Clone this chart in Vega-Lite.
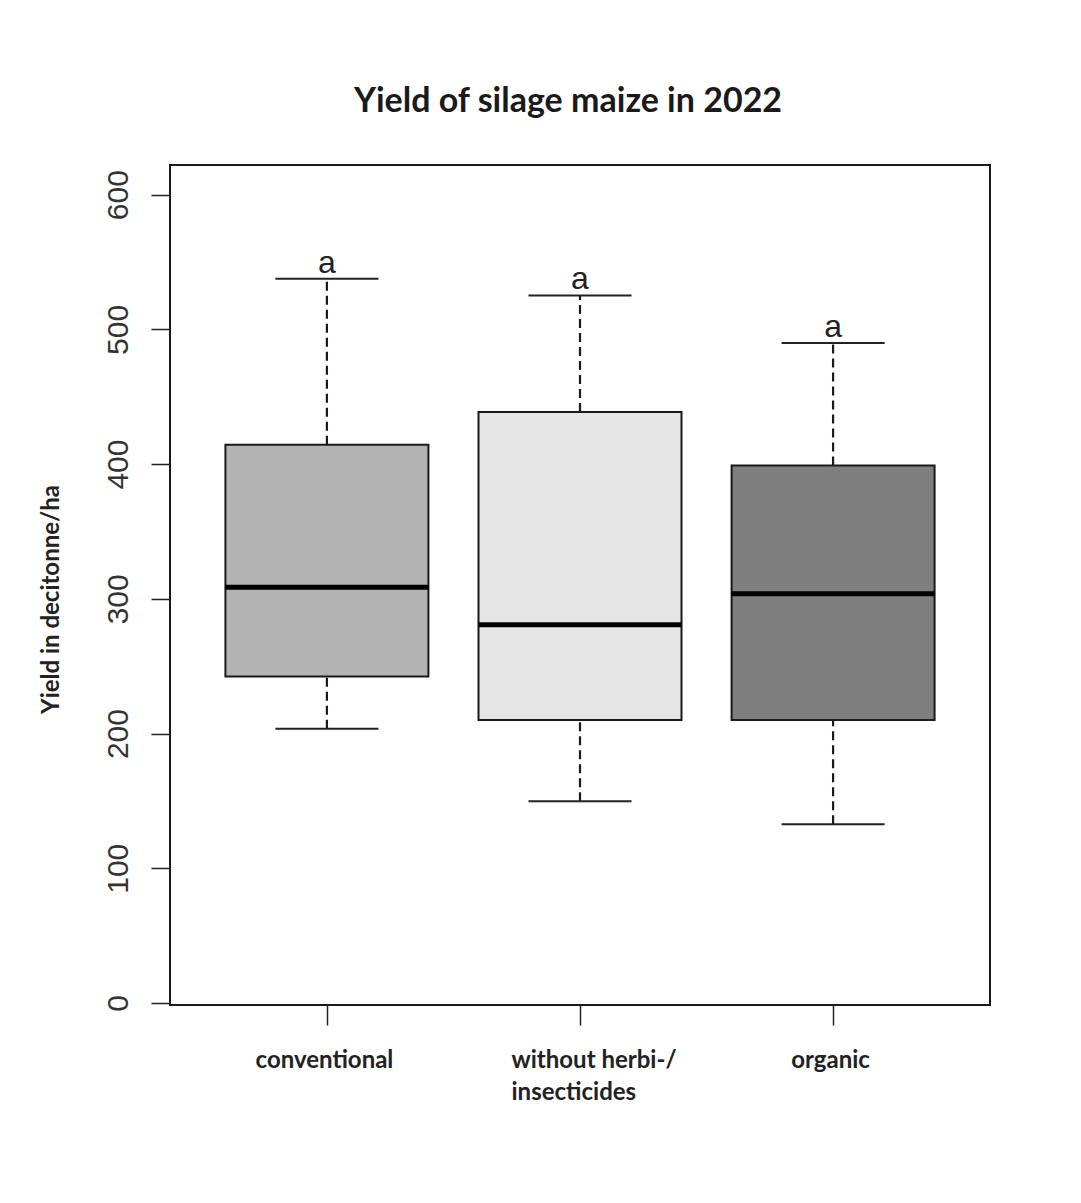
{
  "$schema": "https://vega.github.io/schema/vega-lite/v6.json",
  "width": 820,
  "height": 840,
  "autosize": "none",
  "padding": {"left": 170, "top": 165, "right": 91, "bottom": 198},
  "background": "white",
  "title": {
    "text": "Yield of silage maize in 2022",
    "font": "Lato",
    "fontWeight": "bold",
    "fontSize": 34,
    "color": "#1a1a1a",
    "anchor": "middle",
    "frame": "group",
    "dx": -12,
    "offset": 46
  },
  "data": {
    "values": [
      {"group": "conventional", "lo": 203.5, "q1": 242.3, "med": 308.5, "q3": 414.3, "hi": 537.6, "letter": "a"},
      {"group": "without herbi-/insecticides", "lo": 149.8, "q1": 210.1, "med": 280.7, "q3": 438.6, "hi": 525.2, "letter": "a"},
      {"group": "organic", "lo": 132.7, "q1": 210.1, "med": 303.7, "q3": 399.0, "hi": 489.8, "letter": "a"}
    ]
  },
  "encoding": {
    "x": {
      "field": "group",
      "type": "nominal",
      "sort": null,
      "scale": {"type": "point", "padding": 0.62, "align": 0.5},
      "axis": {
        "title": null,
        "domain": false,
        "grid": false,
        "ticks": true,
        "tickSize": 20,
        "tickColor": "#222",
        "tickWidth": 1.5,
        "labelAngle": 0,
        "labelFont": "Lato",
        "labelFontWeight": "bold",
        "labelFontSize": 24,
        "labelColor": "#222",
        "labelPadding": 23,
        "labelBaseline": "top",
        "labelLineHeight": 32,
        "labelAlign": {"condition": {"test": "datum.value === 'without herbi-/insecticides'", "value": "left"}, "value": "center"},
        "labelOffset": {"condition": {"test": "datum.value === 'without herbi-/insecticides'", "value": -69}, "value": -3},
        "labelExpr": "datum.value === 'without herbi-/insecticides' ? ['without herbi-/', 'insecticides'] : datum.label"
      }
    }
  },
  "layer": [
    {
      "mark": {"type": "rule", "strokeDash": [9, 5], "strokeWidth": 2.2, "color": "#1a1a1a", "opacity": 1},
      "encoding": {
        "y": {
          "field": "q3",
          "type": "quantitative",
          "scale": {"domain": [-1.5, 622], "nice": false, "zero": false},
          "axis": {
            "title": "Yield in decitonne/ha",
            "titleFont": "Lato",
            "titleFontWeight": "bold",
            "titleFontSize": 24,
            "titleColor": "#222",
            "titlePadding": 40,
            "titleY": 434,
            "values": [0, 100, 200, 300, 400, 500, 600],
            "domain": false,
            "grid": false,
            "tickSize": 19,
            "tickColor": "#222",
            "tickWidth": 1.5,
            "labelFont": "Liberation Sans",
            "labelFontSize": 30,
            "labelColor": "#333",
            "labelAngle": -90,
            "labelAlign": "center",
            "labelBaseline": "alphabetic",
            "labelPadding": 24
          }
        },
        "y2": {"field": "hi"}
      }
    },
    {
      "mark": {"type": "rule", "strokeDash": [9, 5], "strokeWidth": 2.2, "color": "#1a1a1a", "opacity": 1},
      "encoding": {
        "y": {"field": "lo", "type": "quantitative"},
        "y2": {"field": "q1"}
      }
    },
    {
      "mark": {"type": "tick", "size": 103, "thickness": 2, "color": "#222", "opacity": 1, "orient": "horizontal"},
      "encoding": {"y": {"field": "hi", "type": "quantitative"}}
    },
    {
      "mark": {"type": "tick", "size": 103, "thickness": 2, "color": "#222", "opacity": 1, "orient": "horizontal"},
      "encoding": {"y": {"field": "lo", "type": "quantitative"}}
    },
    {
      "mark": {"type": "bar", "width": 203, "stroke": "#1a1a1a", "strokeWidth": 2, "opacity": 1},
      "encoding": {
        "y": {"field": "q1", "type": "quantitative"},
        "y2": {"field": "q3"},
        "fill": {
          "field": "group",
          "type": "nominal",
          "scale": {
            "domain": ["conventional", "without herbi-/insecticides", "organic"],
            "range": ["#b3b3b3", "#e5e5e5", "#7f7f7f"]
          },
          "legend": null
        }
      }
    },
    {
      "mark": {"type": "tick", "size": 203, "thickness": 5, "color": "#000", "opacity": 1, "orient": "horizontal"},
      "encoding": {"y": {"field": "med", "type": "quantitative"}}
    },
    {
      "mark": {"type": "text", "font": "Liberation Sans", "fontSize": 32, "baseline": "alphabetic", "dy": -6, "color": "#222"},
      "encoding": {
        "y": {"field": "hi", "type": "quantitative"},
        "text": {"field": "letter"}
      }
    }
  ],
  "config": {
    "view": {"stroke": "#1a1a1a", "strokeWidth": 2}
  }
}
